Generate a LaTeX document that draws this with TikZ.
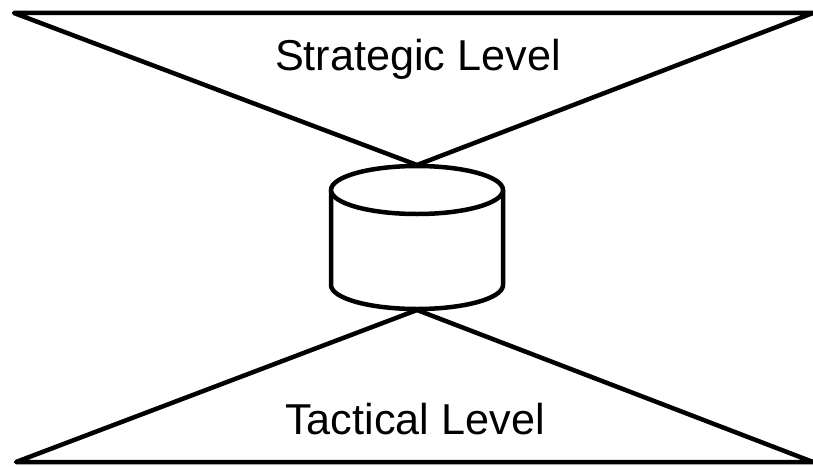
\documentclass[tikz,border=0pt]{standalone}
\usepackage{fontspec}
\setmainfont{Liberation Sans}
\begin{document}
\begin{tikzpicture}[x=0.02cm,y=-0.02cm,line join=round,line cap=round]
	\tikzset{
		thick line/.style={draw=black,line width=0.09cm},
		level text/.style={font=\fontsize{24.6}{28}\selectfont,inner sep=0pt},
	}
	\def\xmin{331} \def\xmax{503}
	\def\ytop{190} \def\ybot{285}
	\useasboundingbox (0,0) rectangle (813,466);
	
	% upper and lower triangles
	\coordinate (topleft) at (14,13);
	\coordinate (topright) at (813,13);
	\coordinate (topapex) at (417,165);
	\coordinate (botleft) at (16,462);
	\coordinate (botright) at (813,462);
	\coordinate (botapex) at (417,310);
	\draw[thick line] (topleft)--(topright)--(topapex)--cycle;
	\draw[thick line] (botleft)--(botright)--(botapex)--cycle;
	
	% cylinder
	\draw[thick line,fill=white] (\xmin,\ytop)--(\xmin,\ybot)
		arc[start angle=180,end angle=0,x radius=86,y radius=24]--(\xmax,\ytop);
	\draw[thick line,fill=white] (417,\ytop) ellipse[x radius=86,y radius=24];
	
	\node[level text] (strategic) at (418,59) {Strategic Level};
	\node[level text] (tactical) at (415,419) {Tactical Level};
\end{tikzpicture}
\end{document}
